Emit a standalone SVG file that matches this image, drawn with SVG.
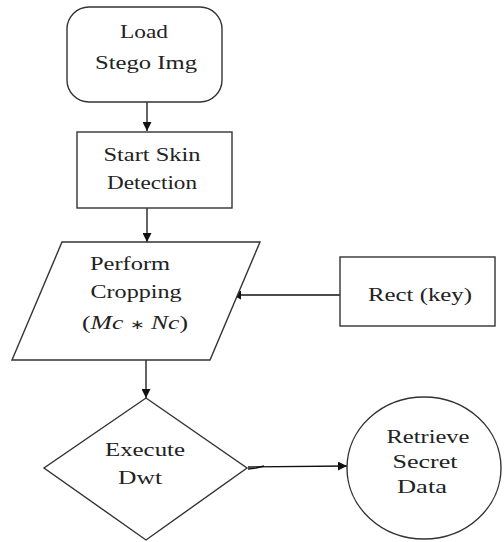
<svg xmlns="http://www.w3.org/2000/svg" width="504" height="542" viewBox="0 0 504 542">
<defs>
<marker id="ah" viewBox="0 0 10 10" refX="10" refY="5" markerWidth="9" markerHeight="9" markerUnits="userSpaceOnUse" orient="auto">
<path d="M0,0 L10,5 L0,10 Z" fill="#111"/>
</marker>
<style>
.s{fill:#fff;stroke:#333;stroke-width:1.4}
.t{font-family:"Liberation Serif","Times New Roman",serif;font-size:19px;fill:#222;text-anchor:middle}
.c{stroke:#111;stroke-width:1.3;fill:none}
</style>
</defs>
<rect width="504" height="542" fill="#fff"/>
<g id="connectors">
<line class="c" x1="147" y1="102" x2="147" y2="131" marker-end="url(#ah)"/>
<line class="c" x1="147" y1="208" x2="147" y2="242" marker-end="url(#ah)"/>
<line class="c" x1="340" y1="295" x2="232" y2="295" marker-end="url(#ah)"/>
<line class="c" x1="146" y1="360" x2="146" y2="398" marker-end="url(#ah)"/>
<line class="c" x1="248" y1="467" x2="347" y2="466" marker-end="url(#ah)"/>
<path class="c" d="M248,469 L256,468 L264,466"/>
</g>
<g id="load">
<rect class="s" x="67" y="7" width="155" height="95" rx="22"/>
<text class="t" x="144" y="38" textLength="48" lengthAdjust="spacingAndGlyphs">Load</text>
<text class="t" x="146" y="69" textLength="102" lengthAdjust="spacingAndGlyphs">Stego Img</text>
</g>
<g id="skin">
<rect class="s" x="77" y="132" width="155" height="76"/>
<text class="t" x="152" y="161" textLength="97" lengthAdjust="spacingAndGlyphs">Start Skin</text>
<text class="t" x="152" y="189" textLength="90" lengthAdjust="spacingAndGlyphs">Detection</text>
</g>
<g id="crop">
<polygon class="s" points="62,242 260,242 210,360 12,360"/>
<text class="t" x="130" y="270" textLength="80" lengthAdjust="spacingAndGlyphs">Perform</text>
<text class="t" x="136" y="298" textLength="91" lengthAdjust="spacingAndGlyphs">Cropping</text>
<text class="t" x="135" y="329" textLength="106" lengthAdjust="spacingAndGlyphs">(<tspan font-style="italic">Mc</tspan> <tspan font-size="13">∗</tspan> <tspan font-style="italic">Nc</tspan>)</text>
</g>
<g id="key">
<rect class="s" x="340" y="257" width="155" height="69"/>
<text class="t" x="420" y="301" textLength="104" lengthAdjust="spacingAndGlyphs">Rect (key)</text>
</g>
<g id="dwt">
<polygon class="s" points="146,398 247,468 146,540 44,468"/>
<text class="t" x="145" y="456" textLength="80" lengthAdjust="spacingAndGlyphs">Execute</text>
<text class="t" x="140" y="484" textLength="44" lengthAdjust="spacingAndGlyphs">Dwt</text>
</g>
<g id="retrieve">
<ellipse class="s" cx="424" cy="468" rx="77" ry="71"/>
<text class="t" x="428" y="443" textLength="83" lengthAdjust="spacingAndGlyphs">Retrieve</text>
<text class="t" x="425" y="468" textLength="65" lengthAdjust="spacingAndGlyphs">Secret</text>
<text class="t" x="422" y="493" textLength="50" lengthAdjust="spacingAndGlyphs">Data</text>
</g>
</svg>
